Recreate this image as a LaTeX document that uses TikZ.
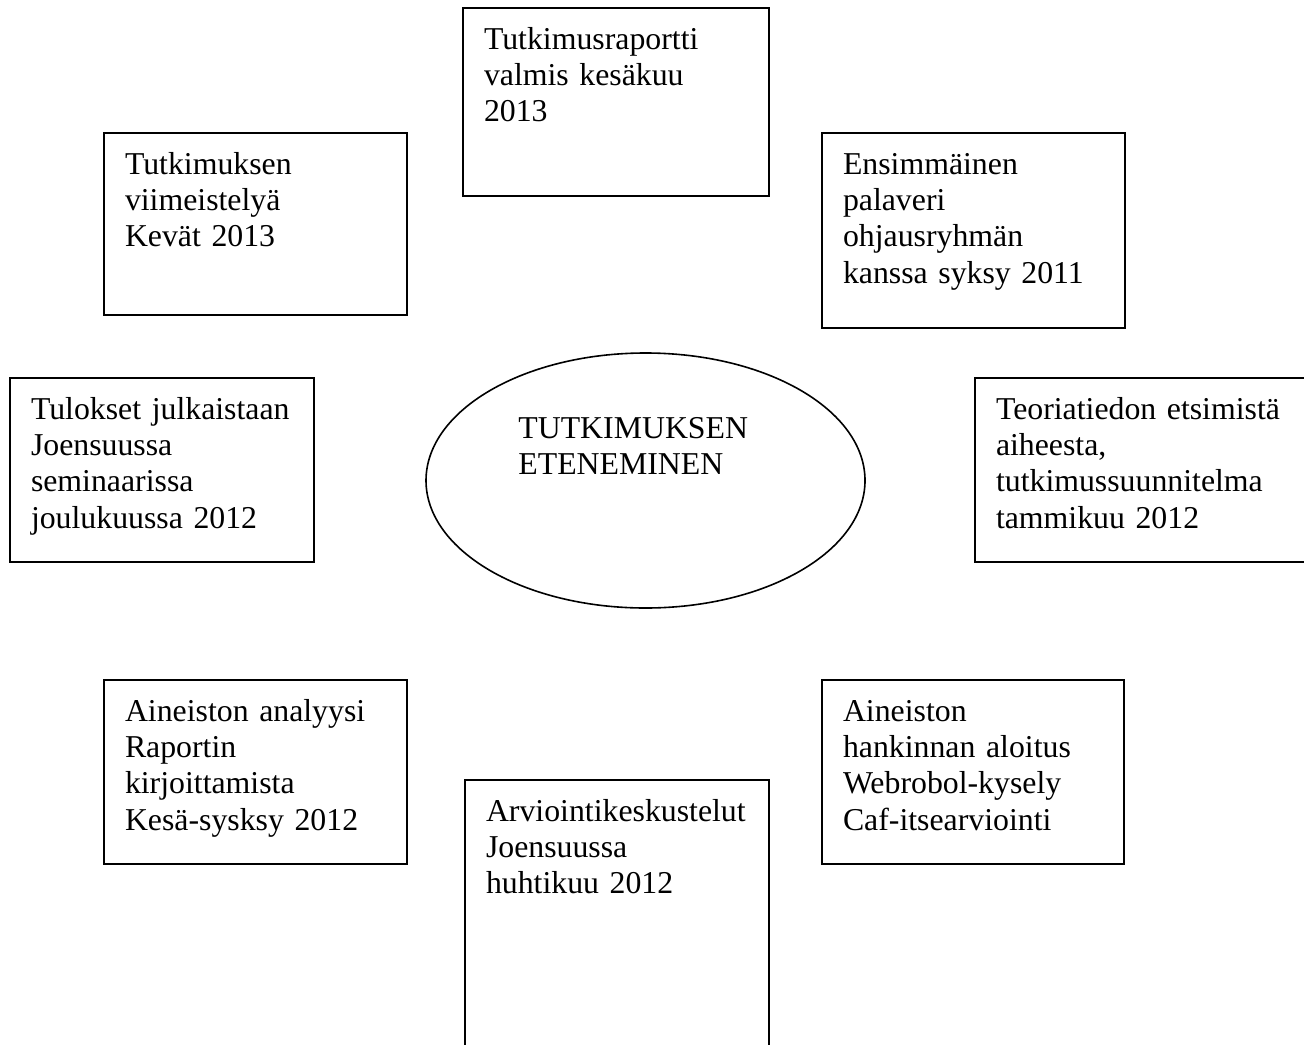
\documentclass[tikz,border=0pt]{standalone}
\usepackage{fontspec}
\setmainfont{Liberation Serif}
\usetikzlibrary{shapes.geometric}

\begin{document}
\begin{tikzpicture}[x=0.5pt,y=-0.5pt]
\tikzset{laatikko/.style={draw, line width=1pt, anchor=north west, inner xsep=10.5pt, inner ysep=0pt, align=left, text height=20.5pt, font=\fontsize{15.9}{18.2}\selectfont}}
\tikzset{otsikko/.style={anchor=base west, inner sep=0pt, align=left, text width=150pt, font=\fontsize{15.9}{18.2}\selectfont}}
\useasboundingbox (0,0) rectangle (1304,1044);
\fill[white] (0,0) rectangle (1304,1044);
\clip (0,0) rectangle (1304,1044);
% keskella
\node[draw, ellipse, line width=0.8pt, minimum width=219.5pt, minimum height=127.5pt, inner sep=0pt] (keskus) at (645.5,480.5) {};
\node[otsikko] (nimi) at (518,438) {TUTKIMUKSEN\\ETENEMINEN};
% vaiheet
\node[laatikko, text width=132pt, text depth=73.5pt] (raportti) at (462,7) {Tutkimusraportti\\valmis kesäkuu\\2013};
\node[laatikko, text width=130.5pt, text depth=77pt] (palaveri) at (821,132) {Ensimmäinen\\palaveri\\ohjausryhmän\\kanssa syksy 2011};
\node[laatikko, text width=152pt, text depth=71.5pt] (teoria) at (974,377) {Teoriatiedon etsimistä\\aiheesta,\\tutkimussuunnitelma\\tammikuu 2012};
\node[laatikko, text width=130pt, text depth=71.5pt] (hankinta) at (821,679) {Aineiston\\hankinnan aloitus\\Webrobol-kysely\\Caf-itsearviointi};
\node[laatikko, text width=131pt, text depth=120pt] (arviointi) at (464,779) {Arviointikeskustelut\\Joensuussa\\huhtikuu 2012};
\node[laatikko, text width=130.5pt, text depth=71.5pt] (analyysi) at (103,679) {Aineiston analyysi\\Raportin\\kirjoittamista\\Kesä-sysksy 2012};
\node[laatikko, text width=131pt, text depth=71.5pt] (tulokset) at (9,377) {Tulokset julkaistaan\\Joensuussa\\seminaarissa\\joulukuussa 2012};
\node[laatikko, text width=130.5pt, text depth=70.5pt] (viimeistely) at (103,132) {Tutkimuksen\\viimeistelyä\\Kevät 2013};
\end{tikzpicture}
\end{document}
